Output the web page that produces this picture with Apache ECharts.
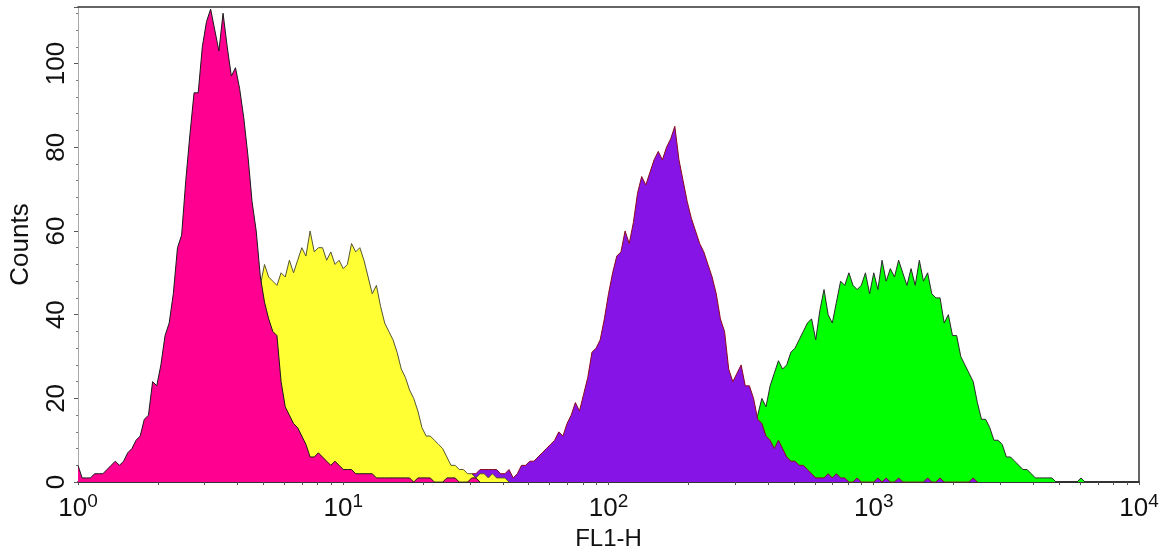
<!DOCTYPE html>
<html>
<head>
<meta charset="utf-8">
<script src="https://cdn.jsdelivr.net/npm/echarts@6/dist/echarts.min.js"></script>
<style>
  html, body { margin: 0; padding: 0; background: #fff; }
  #chart { width: 1166px; height: 556px; }
</style>
</head>
<body>
<div id="chart"></div>
<script>
// FL1-H histograms: 1024 log channels over four decades, 4 channels per bin.
const CHANNELS_PER_DECADE = 256;
const CHANNELS_PER_BIN = 4;

// Counts per bin for each sample, starting at the given bin index.
const pinkStart = 0;
const pinkCounts = [
  4, 1, 1, 1, 2, 2, 2, 3, 4, 5,
  4, 5, 7, 8, 10, 11, 15, 16, 24, 23,
  28, 35, 38, 45, 56, 59, 72, 83, 93, 93,
  104, 110, 113, 108, 103, 112, 104, 97, 99, 94,
  87, 78, 67, 60, 49, 43, 39, 36, 35, 24,
  18, 16, 14, 13, 11, 9, 6, 6, 7, 6,
  5, 4, 5, 4, 3, 3, 3, 2, 2, 2,
  2, 2, 1, 1, 1, 1, 1, 1, 1, 1,
  1, 0, 1, 1, 1, 1, 0, 0, 0, 1,
  1, 1, 0, 0, 0, 1, 1, 0
];

const yellowStart = 28;
const yellowCounts = [
  1, 1, 2, 4, 6, 9, 12, 16, 20, 25,
  29, 33, 37, 40, 43, 45, 47, 52, 49, 48,
  47, 50, 49, 53, 50, 53, 56, 54, 60, 55,
  56, 56, 53, 55, 52, 53, 51, 52, 57, 55,
  56, 53, 49, 45, 47, 42, 38, 36, 34, 31,
  27, 25, 22, 20, 17, 13, 11, 11, 10, 9,
  8, 6, 4, 4, 3, 3, 2, 2, 1, 2,
  2, 1, 2, 1, 1, 1, 0
];

const purpleStart = 94;
const purpleCounts = [
  1, 2, 2, 3, 3, 3, 3, 3, 2, 2,
  3, 1, 2, 4, 4, 5, 5, 6, 7, 8,
  9, 10, 12, 11, 14, 16, 19, 17, 21, 25,
  31, 32, 34, 39, 45, 50, 54, 55, 60, 57,
  62, 69, 73, 71, 74, 77, 79, 77, 80, 82,
  85, 77, 72, 67, 63, 60, 57, 55, 52, 49,
  45, 39, 36, 27, 24, 26, 28, 23, 23, 20,
  15, 14, 11, 10, 8, 10, 8, 6, 5, 5,
  4, 4, 3, 2, 1, 1, 1, 2, 1, 2,
  1, 1, 0, 0, 1, 0, 0, 0, 0, 1,
  0, 1, 0, 0, 1, 0, 0, 0, 0, 0,
  0, 1, 0, 0, 1, 0, 0, 0, 0, 0,
  0, 0, 1, 0
];

const greenStart = 155;
const greenCounts = [
  1, 1, 2, 3, 4, 6, 8, 10, 13,
  16, 20, 18, 23, 26, 29, 27, 28, 31, 32,
  34, 36, 38, 39, 34, 41, 46, 40, 38, 43,
  48, 47, 50, 47, 46, 47, 50, 45, 50, 46,
  53, 48, 51, 49, 53, 50, 47, 51, 47, 53,
  48, 50, 45, 44, 44, 38, 40, 35, 35, 30,
  28, 26, 24, 19, 15, 15, 13, 10, 10, 9,
  6, 6, 5, 4, 3, 3, 2, 1, 1, 1,
  1, 1, 0, 0, 0, 0, 0, 0, 1, 0
];

// Axis values
const xMin = 1, xMax = 10000;
const xMajorTicks = [1, 10, 100, 1000, 10000];
const yMax = 113.5;
const yInterval = 20;

// Tick marks at 1..9 x 10^d within each decade
const xAllTicks = [];
for (let d = 0; d < 4; d++) {
  for (let k = 1; k <= 9; k++) xAllTicks.push(k * Math.pow(10, d));
}
xAllTicks.push(10000);

function binsToPoints(start, counts) {
  return counts.map((c, k) => [
    Math.pow(10, ((start + k) * CHANNELS_PER_BIN) / CHANNELS_PER_DECADE),
    c
  ]);
}

const FONT = '"Liberation Sans", Arial, Helvetica, sans-serif';

// Later series sit above earlier ones; z keeps each outline with its own fill.
function histSeries(name, start, counts, fill, stroke, z) {
  return {
    name: name,
    type: 'line',
    z: z,
    data: binsToPoints(start, counts),
    showSymbol: false,
    symbol: 'none',
    silent: true,
    lineStyle: { color: stroke, width: 1 },
    areaStyle: { color: fill, opacity: 1 },
    itemStyle: { color: fill }
  };
}

const chart = echarts.init(document.getElementById('chart'), null, { renderer: 'canvas' });
chart.setOption({
  animation: false,
  backgroundColor: '#ffffff',
  grid: { left: 71, right: 27, top: 7, bottom: 72, containLabel: false },
  xAxis: [
    {
      type: 'log',
      logBase: 10,
      min: xMin,
      max: xMax,
      name: 'FL1-H',
      nameLocation: 'middle',
      nameGap: 44,
      nameTextStyle: { fontFamily: FONT, fontSize: 24, color: '#111' },
      axisLine: { show: true, onZero: false, lineStyle: { color: '#333', width: 2 } },
      axisTick: { show: true, customValues: xAllTicks, length: 3, inside: false, lineStyle: { color: '#555', width: 1 } },
      axisLabel: {
        customValues: xMajorTicks,
        margin: 10,
        formatter: function (v) {
          return '{b|10}{s|' + Math.round(Math.log10(v)) + '}';
        },
        rich: {
          b: { fontFamily: FONT, fontSize: 26, color: '#111', lineHeight: 30, verticalAlign: 'bottom' },
          s: { fontFamily: FONT, fontSize: 19, color: '#111', lineHeight: 30, verticalAlign: 'top' }
        }
      },
      splitLine: { show: false }
    },
    {
      type: 'log',
      logBase: 10,
      min: xMin,
      max: xMax,
      position: 'top',
      axisLine: { show: true, onZero: false, lineStyle: { color: '#333', width: 1.5 } },
      axisTick: { show: false },
      axisLabel: { show: false },
      splitLine: { show: false }
    }
  ],
  yAxis: [
    {
      type: 'value',
      min: 0,
      max: yMax,
      interval: yInterval,
      name: 'Counts',
      nameLocation: 'middle',
      nameRotate: 90,
      nameGap: 44,
      nameTextStyle: { fontFamily: FONT, fontSize: 26, color: '#111' },
      axisLine: { show: true, onZero: false, lineStyle: { color: '#aaa', width: 1 } },
      axisTick: { show: true, length: 4, lineStyle: { color: '#555' } },
      minorTick: { show: true, splitNumber: 5, length: 2, lineStyle: { color: '#777' } },
      axisLabel: {
        rotate: 90,
        margin: 8,
        fontFamily: FONT,
        fontSize: 26,
        color: '#111',
        showMaxLabel: false
      },
      splitLine: { show: false },
      minorSplitLine: { show: false }
    },
    {
      type: 'value',
      min: 0,
      max: yMax,
      position: 'right',
      axisLine: { show: true, onZero: false, lineStyle: { color: '#333', width: 1.5 } },
      axisTick: { show: false },
      axisLabel: { show: false },
      splitLine: { show: false }
    }
  ],
  series: [
    histSeries('green', greenStart, greenCounts, '#00ff00', '#2a2a2a', 2),
    histSeries('purple', purpleStart, purpleCounts, '#8614e6', '#8b0a1c', 3),
    histSeries('yellow', yellowStart, yellowCounts, '#ffff33', '#555533', 4),
    histSeries('pink', pinkStart, pinkCounts, '#ff0090', '#1a1a1a', 5)
  ]
});
</script>
</body>
</html>
